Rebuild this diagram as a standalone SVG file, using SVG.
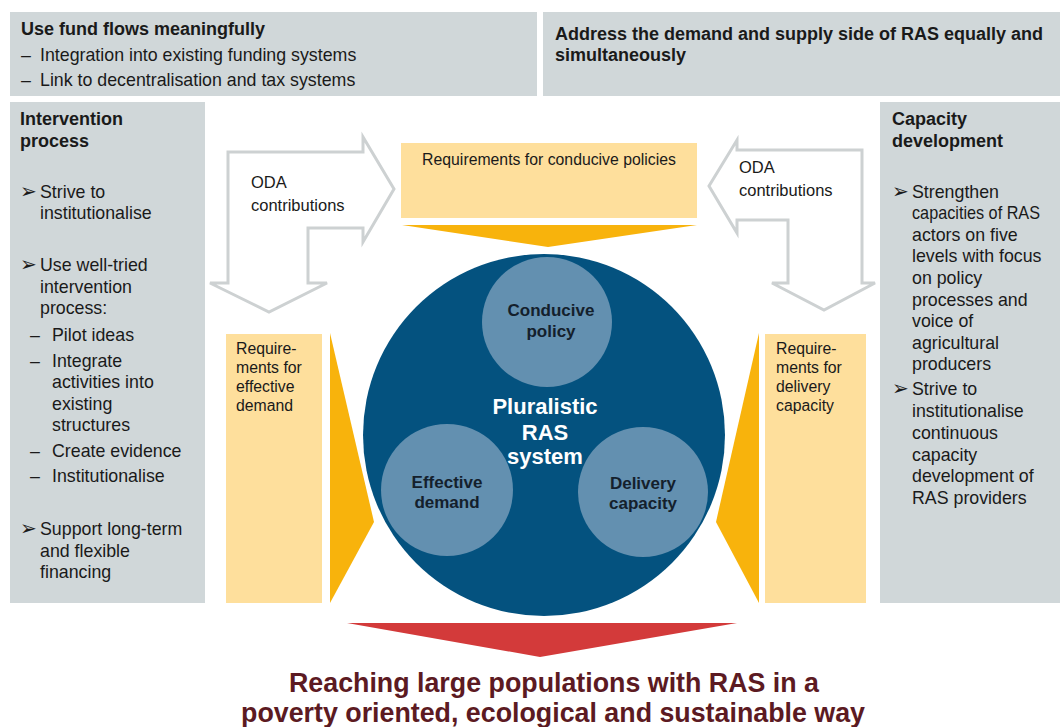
<svg xmlns="http://www.w3.org/2000/svg" width="1060" height="727" viewBox="0 0 1060 727">
<style>
text{font-family:"Liberation Sans",Arial,sans-serif;fill:#1a1a1a}
.panel{fill:#d0d7d9}
.b{font-weight:bold}
.t16{font-size:17.8px}
.bul{font-size:20px}
.h{font-size:18px;font-weight:bold}
.t15{font-size:16.5px}
.t14{font-size:15.8px}
.req{fill:#fedf9c}
.chev{fill:#f8b30c}
.oda{fill:#ffffff;stroke:#cdd1d2;stroke-width:3;stroke-linejoin:miter}
.small{fill:#6390b0}
.ct{font-size:17px;font-weight:bold;fill:#14202c;text-anchor:middle}
.goal{font-size:26.8px;font-weight:bold;fill:#5c1a22;text-anchor:middle}
</style>
<rect width="1060" height="727" fill="#ffffff"/>

<g id="fund-flows">
<rect class="panel" x="10" y="12" width="527" height="84"/>
<text class="h" x="21" y="35">Use fund flows meaningfully</text>
<text class="t16" x="21" y="61">–</text>
<text class="t16" x="40" y="61">Integration into existing funding systems</text>
<text class="t16" x="21" y="86">–</text>
<text class="t16" x="40" y="86">Link to decentralisation and tax systems</text>
</g>

<g id="demand-supply">
<rect class="panel" x="543" y="12" width="517" height="84"/>
<text class="h" x="555" y="40">Address the demand and supply side of RAS equally and</text>
<text class="h" x="555" y="61">simultaneously</text>
</g>

<g id="intervention-process">
<rect class="panel" x="10" y="102" width="195" height="501"/>
<text class="h" x="20" y="125">Intervention</text>
<text class="h" x="20" y="147">process</text>
<text class="bul" x="20" y="198">➢</text>
<text class="t16" x="40" y="198">Strive to</text>
<text class="t16" x="40" y="219">institutionalise</text>
<text class="bul" x="20" y="271">➢</text>
<text class="t16" x="40" y="271">Use well-tried</text>
<text class="t16" x="40" y="293">intervention</text>
<text class="t16" x="40" y="314">process:</text>
<text class="t16" x="30" y="341">–</text>
<text class="t16" x="52" y="341">Pilot ideas</text>
<text class="t16" x="30" y="367">–</text>
<text class="t16" x="52" y="367">Integrate</text>
<text class="t16" x="52" y="388">activities into</text>
<text class="t16" x="52" y="410">existing</text>
<text class="t16" x="52" y="431">structures</text>
<text class="t16" x="30" y="457">–</text>
<text class="t16" x="52" y="457">Create evidence</text>
<text class="t16" x="30" y="482">–</text>
<text class="t16" x="52" y="482">Institutionalise</text>
<text class="bul" x="20" y="535">➢</text>
<text class="t16" x="40" y="535">Support long-term</text>
<text class="t16" x="40" y="557">and flexible</text>
<text class="t16" x="40" y="578">financing</text>
</g>

<g id="capacity-development">
<rect class="panel" x="880" y="102" width="180" height="501"/>
<text class="h" x="892" y="125">Capacity</text>
<text class="h" x="892" y="147">development</text>
<text class="bul" x="892" y="198">➢</text>
<text class="t16" x="912" y="198">Strengthen</text>
<text class="t16" x="912" y="219" textLength="128" lengthAdjust="spacingAndGlyphs">capacities of RAS</text>
<text class="t16" x="912" y="241">actors on five</text>
<text class="t16" x="912" y="262">levels with focus</text>
<text class="t16" x="912" y="284">on policy</text>
<text class="t16" x="912" y="306">processes and</text>
<text class="t16" x="912" y="327">voice of</text>
<text class="t16" x="912" y="349">agricultural</text>
<text class="t16" x="912" y="370">producers</text>
<text class="bul" x="892" y="395">➢</text>
<text class="t16" x="912" y="395">Strive to</text>
<text class="t16" x="912" y="417">institutionalise</text>
<text class="t16" x="912" y="439">continuous</text>
<text class="t16" x="912" y="461">capacity</text>
<text class="t16" x="912" y="482">development  of</text>
<text class="t16" x="912" y="504">RAS providers</text>
</g>

<g id="connectors">
<path id="oda-left-arrow" class="oda" d="M228,152 L363,152 L363,137 L394,189 L363,242 L363,228 L308,228 L308,283 L327,283 L269,312 L210,283 L228,283 Z"/>
<path id="oda-right-arrow" class="oda" d="M862,150 L737,150 L737,140 L709,186 L737,233 L737,220 L788,220 L788,283 L772,283 L824,310 L875,283 L862,283 Z"/>
<polygon id="chevron-top" class="chev" points="402,225 697,225 548,247"/>
<polygon id="chevron-left" class="chev" points="330,333 374,522 330,603"/>
<polygon id="chevron-right" class="chev" points="759,333 716,522 759,603"/>
<polygon id="arrow-goal" fill="#d33a3a" points="347,623 737,623 540,657"/>
</g>

<g id="oda-left">
<text class="t15" x="251" y="188">ODA</text>
<text class="t15" x="251" y="211">contributions</text>
</g>
<g id="oda-right">
<text class="t15" x="739" y="173">ODA</text>
<text class="t15" x="739" y="196">contributions</text>
</g>

<g id="req-policies">
<rect class="req" x="401" y="143" width="296" height="75"/>
<text class="t14" x="549" y="165" text-anchor="middle">Requirements for conducive policies</text>
</g>
<g id="req-demand">
<rect class="req" x="226" y="334" width="96" height="269"/>
<text class="t14" x="236" y="354">Require-</text>
<text class="t14" x="236" y="373">ments for</text>
<text class="t14" x="236" y="392">effective</text>
<text class="t14" x="236" y="411">demand</text>
</g>
<g id="req-delivery">
<rect class="req" x="765" y="334" width="101" height="269"/>
<text class="t14" x="776" y="354">Require-</text>
<text class="t14" x="776" y="373">ments for</text>
<text class="t14" x="776" y="392">delivery</text>
<text class="t14" x="776" y="411">capacity</text>
</g>

<g id="ras-system">
<circle cx="544" cy="435" r="181" fill="#04527f"/>
<text x="545" y="414" font-size="22" font-weight="bold" text-anchor="middle" style="fill:#ffffff">Pluralistic</text>
<text x="545" y="440" font-size="22" font-weight="bold" text-anchor="middle" style="fill:#ffffff">RAS</text>
<text x="545" y="464" font-size="22" font-weight="bold" text-anchor="middle" style="fill:#ffffff">system</text>
</g>
<g id="conducive-policy">
<circle class="small" cx="547" cy="322" r="65"/>
<text class="ct" x="551" y="316">Conducive</text>
<text class="ct" x="551" y="337">policy</text>
</g>
<g id="effective-demand">
<circle class="small" cx="447" cy="490" r="66"/>
<text class="ct" x="447" y="488">Effective</text>
<text class="ct" x="447" y="508">demand</text>
</g>
<g id="delivery-capacity">
<circle class="small" cx="643" cy="492" r="65"/>
<text class="ct" x="643" y="489">Delivery</text>
<text class="ct" x="643" y="509">capacity</text>
</g>

<g id="goal">
<text class="goal" x="554" y="692">Reaching large populations with RAS in a</text>
<text class="goal" x="553" y="722">poverty oriented, ecological and sustainable way</text>
</g>
</svg>
